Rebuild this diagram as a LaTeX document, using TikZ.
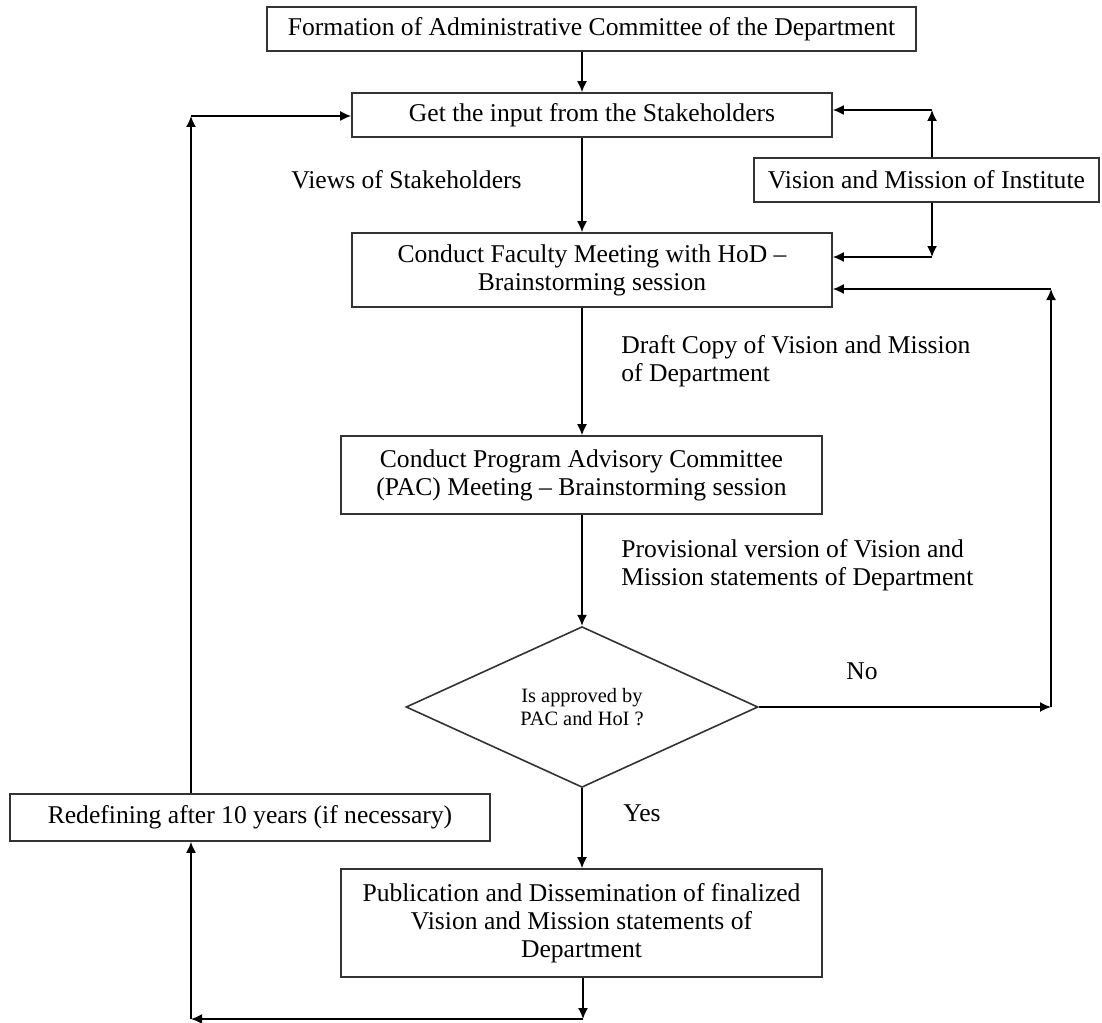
\documentclass[tikz,border=0pt]{standalone}
\usepackage{fontspec}
\setmainfont{Liberation Serif}
\usetikzlibrary{arrows.meta, shapes.geometric, positioning}

\begin{document}
\begin{tikzpicture}[x=0.5pt, y=-0.5pt]
  \tikzset{box/.style={draw=black!80, line width=0.8pt, align=center, inner sep=2pt, font=\fontsize{12.8}{14}\selectfont},
    lbl/.style={align=left, anchor=west, inner sep=0pt, font=\fontsize{12.8}{14}\selectfont},
    arr/.style={line width=0.8pt, -{Latex[length=5.5pt, width=5pt]}}}
  \useasboundingbox (0,0) rectangle (1102,1022);
  \node[box, minimum width=324.5pt, minimum height=22pt] (form) at (591.5,29) {Formation of Administrative Committee of the Department};
  \node[box, minimum width=240pt, minimum height=22pt] (input) at (592,115) {Get the input from the Stakeholders};
  \node[box, minimum width=172.5pt, minimum height=22pt] (vision) at (926.5,180) {Vision and Mission of Institute};
  \node[box, minimum width=240pt, minimum height=37pt] (faculty) at (592,270) {Conduct Faculty Meeting with HoD --\\Brainstorming session};
  \node[box, minimum width=240.5pt, minimum height=39pt] (pac) at (581.5,475) {Conduct Program Advisory Committee\\(PAC) Meeting -- Brainstorming session};
  \node[diamond, draw=black!80, line width=0.8pt, minimum width=176pt, minimum height=64pt, inner sep=0pt, align=center, font=\fontsize{10.2}{11.5}\selectfont] (dec) at (582,707) {Is approved by\\PAC and HoI ?};
  \node[box, minimum width=240pt, minimum height=23.5pt] (redef) at (250,817.5) {Redefining after 10 years (if necessary)};
  \node[box, minimum width=240.5pt, minimum height=54pt] (pub) at (581.5,923) {Publication and Dissemination of finalized\\Vision and Mission statements of\\Department};

  \node[lbl] (views) at (291,180) {Views of Stakeholders};
  \node[lbl] (draft) at (621,361) {Draft Copy of Vision and Mission\\of Department};
  \node[lbl] (prov) at (621,565) {Provisional version of Vision and\\Mission statements of Department};
  \node[lbl] (no) at (846,671) {No};
  \node[lbl] (yes) at (623,813) {Yes};

  \coordinate (inleft) at ([yshift=-0.5pt]input.west);
  \coordinate (inright) at ([yshift=2.5pt]input.east);
  \coordinate (facup) at ([yshift=6.5pt]faculty.east);
  \coordinate (faclow) at ([yshift=-9.5pt]faculty.east);
  \coordinate (visup) at ([xshift=2.75pt]vision.north);
  \coordinate (visdown) at ([xshift=2.75pt]vision.south);
  \coordinate (noend) at (1051,707);
  \coordinate (pubout) at (583,1019);
  \coordinate (loopend) at (191,1019);

  \draw[arr] (form.south -| dec.north) -- (input.north -| dec.north);
  \draw[arr] (input.south -| dec.north) -- (faculty.north -| dec.north);
  \draw[arr] (faculty.south -| dec.north) -- (pac.north -| dec.north);
  \draw[arr] (pac.south -| dec.north) -- (dec.north);
  \draw[arr] (dec.south) -- (pub.north -| dec.south);
  \draw[arr] (visup) -- (visup |- inright);
  \draw[arr] (visup |- inright) -- (inright);
  \draw[arr] (visdown) -- (visdown |- facup);
  \draw[arr] (visdown |- facup) -- (facup);
  \draw[arr] (dec.east) -- (noend);
  \draw[arr] (noend) -- (noend |- faclow);
  \draw[arr] (noend |- faclow) -- (faclow);
  \draw[arr] (pub.south -| pubout) -- (pubout);
  \draw[arr] (pubout) -- (loopend);
  \draw[arr] (loopend) -- (redef.south -| loopend);
  \draw[arr] (redef.north -| loopend) -- (loopend |- inleft);
  \draw[arr] (loopend |- inleft) -- (inleft);
\end{tikzpicture}
\end{document}
